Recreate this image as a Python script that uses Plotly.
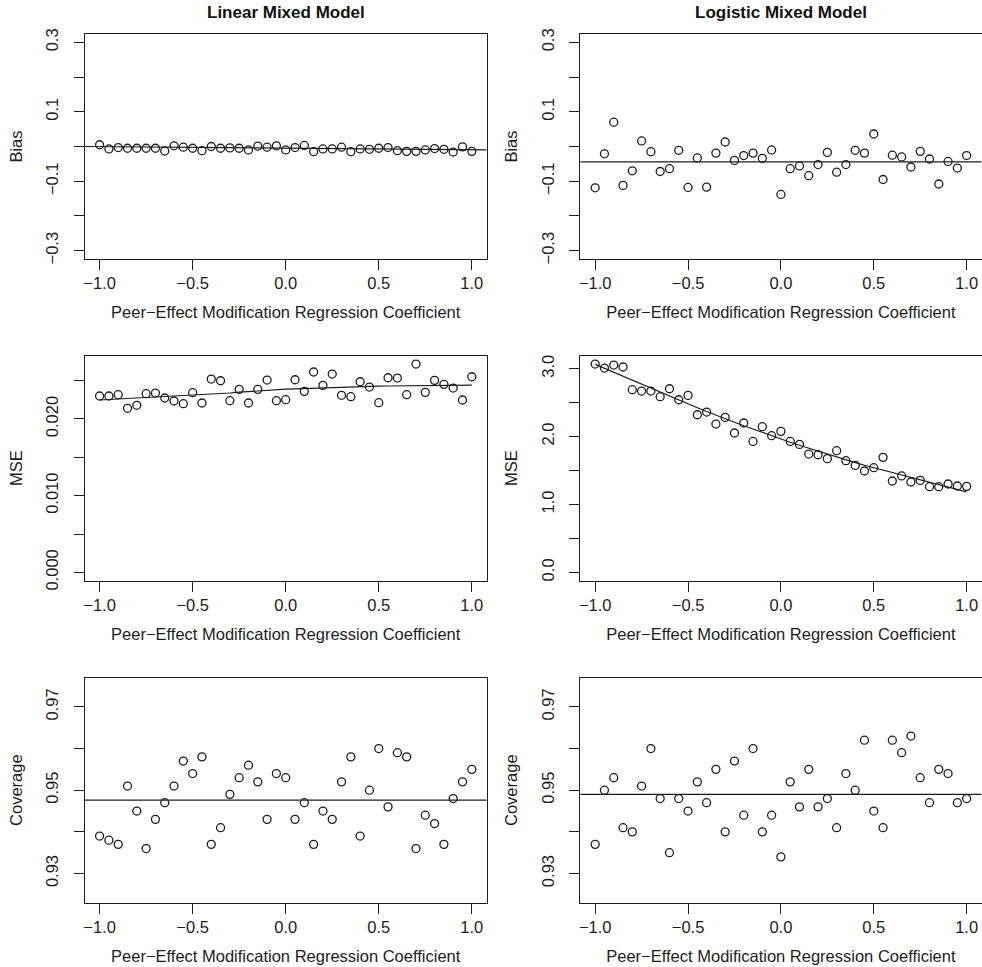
import numpy as np
import plotly.graph_objects as go

# ---------------- data ----------------
coef = [-1.0, -0.95, -0.9, -0.85, -0.8, -0.75, -0.7, -0.65, -0.6, -0.55, -0.5,
        -0.45, -0.4, -0.35, -0.3, -0.25, -0.2, -0.15, -0.1, -0.05, 0.0,
        0.05, 0.1, 0.15, 0.2, 0.25, 0.3, 0.35, 0.4, 0.45, 0.5,
        0.55, 0.6, 0.65, 0.7, 0.75, 0.8, 0.85, 0.9, 0.95, 1.0]

bias_linear = [0.005, -0.007, -0.003, -0.005, -0.005, -0.005, -0.005, -0.013, 0.002, -0.002, -0.005,
               -0.012, 0.000, -0.005, -0.004, -0.005, -0.010, 0.001, -0.002, 0.002, -0.010,
               -0.003, 0.003, -0.015, -0.007, -0.007, -0.002, -0.015, -0.007, -0.008, -0.005,
               -0.003, -0.012, -0.014, -0.014, -0.010, -0.006, -0.008, -0.016, -0.001, -0.014]
bias_logistic = [-0.119, -0.021, 0.070, -0.112, -0.070, 0.016, -0.015, -0.072, -0.064, -0.011, -0.118,
                 -0.033, -0.117, -0.019, 0.013, -0.040, -0.026, -0.019, -0.034, -0.010, -0.138,
                 -0.064, -0.056, -0.084, -0.052, -0.017, -0.074, -0.052, -0.011, -0.019, 0.036,
                 -0.095, -0.025, -0.030, -0.059, -0.014, -0.036, -0.108, -0.043, -0.062, -0.026]
mse_linear = [0.02299, 0.02299, 0.02316, 0.02139, 0.02178, 0.02329, 0.02338, 0.02273, 0.02234, 0.02199, 0.02342,
              0.02208, 0.02520, 0.02498, 0.02238, 0.02386, 0.02208, 0.02386, 0.02507, 0.02238, 0.02251,
              0.02511, 0.02360, 0.02612, 0.02438, 0.02585, 0.02308, 0.02290, 0.02485, 0.02416, 0.02212,
              0.02537, 0.02533, 0.02316, 0.02716, 0.02347, 0.02503, 0.02451, 0.02403, 0.02247, 0.02550]
mse_logistic = [3.069, 3.010, 3.054, 3.025, 2.691, 2.671, 2.671, 2.588, 2.705, 2.543, 2.607,
                2.322, 2.362, 2.185, 2.283, 2.053, 2.200, 1.929, 2.146, 2.013, 2.077,
                1.929, 1.885, 1.743, 1.733, 1.675, 1.792, 1.645, 1.576, 1.493, 1.542,
                1.694, 1.346, 1.420, 1.331, 1.355, 1.262, 1.262, 1.302, 1.272, 1.267]
coverage_linear = [0.939, 0.938, 0.937, 0.951, 0.945, 0.936, 0.943, 0.947, 0.951, 0.957, 0.954,
                   0.958, 0.937, 0.941, 0.949, 0.953, 0.956, 0.952, 0.943, 0.954, 0.953,
                   0.943, 0.947, 0.937, 0.945, 0.943, 0.952, 0.958, 0.939, 0.950, 0.960,
                   0.946, 0.959, 0.958, 0.936, 0.944, 0.942, 0.937, 0.948, 0.952, 0.955]
coverage_logistic = [0.937, 0.950, 0.953, 0.941, 0.940, 0.951, 0.960, 0.948, 0.935, 0.948, 0.945,
                     0.952, 0.947, 0.955, 0.940, 0.957, 0.944, 0.960, 0.940, 0.944, 0.934,
                     0.952, 0.946, 0.955, 0.946, 0.948, 0.941, 0.954, 0.950, 0.962, 0.945,
                     0.941, 0.962, 0.959, 0.963, 0.953, 0.947, 0.955, 0.954, 0.947, 0.948]

# reference lines (intercept, slope)
bias_linear_line = [-0.0048, -0.0044]
bias_logistic_line = [-0.044, 0.0]
coverage_linear_line = [0.9476, 0.0]
coverage_logistic_line = [0.9490, 0.0]

col_titles = ["Linear Mixed Model", "Logistic Mixed Model"]
x_title = "Peer\u2212Effect Modification Regression Coefficient"
x_ticks = [-1.0, -0.5, 0.0, 0.5, 1.0]
x_ticktext = ["\u22121.0", "\u22120.5", "0.0", "0.5", "1.0"]

bias_ticks = [-0.3, -0.2, -0.1, 0.0, 0.1, 0.2, 0.3]
bias_ticktext = ["\u22120.3", "", "\u22120.1", "", "0.1", "", "0.3"]
mse_lin_ticks = [0.0, 0.005, 0.010, 0.015, 0.020, 0.025]
mse_lin_ticktext = ["0.000", "", "0.010", "", "0.020", ""]
mse_log_ticks = [0.0, 0.5, 1.0, 1.5, 2.0, 2.5, 3.0]
mse_log_ticktext = ["0.0", "", "1.0", "", "2.0", "", "3.0"]
cov_ticks = [0.93, 0.94, 0.95, 0.96, 0.97]
cov_ticktext = ["0.93", "", "0.95", "", "0.97"]


# ---------------- helpers ----------------
def lowess(x, y, f=2 / 3, iters=3):
    x = np.asarray(x, float)
    y = np.asarray(y, float)
    n = len(x)
    ns = max(min(int(f * n + 1e-7), n), 2)
    rw = np.ones(n)
    fit = np.zeros(n)
    for it in range(iters + 1):
        for i in range(n):
            d = np.abs(x - x[i])
            h = np.sort(d)[ns - 1]
            u = np.clip(d / max(h, 1e-12), 0, 1)
            w = (1 - u ** 3) ** 3 * rw
            sw = w.sum()
            xm = (w * x).sum() / sw
            ym = (w * y).sum() / sw
            sxx = (w * (x - xm) ** 2).sum()
            b = (w * (x - xm) * (y - ym)).sum() / sxx if sxx > 0 else 0.0
            fit[i] = ym + b * (x[i] - xm)
        res = y - fit
        s = np.median(np.abs(res))
        if it < iters:
            rr = np.clip(np.abs(res) / (6 * s), 0, 1)
            rw = (1 - rr ** 2) ** 2
    return fit


def lim(lo, hi):
    pad = 0.04 * (hi - lo)
    return [lo - pad, hi + pad]


INK = "#1c1c1c"
FONT = "Liberation Sans, Arial, Helvetica, sans-serif"
W, H = 982, 967
AX_FS = 16.5

xr = lim(-1.0, 1.0)

panels = [
    dict(vals=bias_linear, ytitle="Bias", ticks=bias_ticks, text=bias_ticktext,
         yr=lim(-0.3, 0.3), line=("ab", bias_linear_line)),
    dict(vals=bias_logistic, ytitle="Bias", ticks=bias_ticks, text=bias_ticktext,
         yr=lim(-0.3, 0.3), line=("ab", bias_logistic_line)),
    dict(vals=mse_linear, ytitle="MSE", ticks=mse_lin_ticks, text=mse_lin_ticktext,
         yr=lim(0.0, max(mse_linear)), line=("lowess", None)),
    dict(vals=mse_logistic, ytitle="MSE", ticks=mse_log_ticks, text=mse_log_ticktext,
         yr=lim(0.0, max(mse_logistic)), line=("lowess", None)),
    dict(vals=coverage_linear, ytitle="Coverage", ticks=cov_ticks, text=cov_ticktext,
         yr=lim(0.925, 0.975), line=("ab", coverage_linear_line)),
    dict(vals=coverage_logistic, ytitle="Coverage", ticks=cov_ticks, text=cov_ticktext,
         yr=lim(0.925, 0.975), line=("ab", coverage_logistic_line)),
]

# plot box positions in window pixels (left, right) and (top, bottom)
col_px = [(84.7, 486.7), (580.3, 981.5)]
row_px = [(34.0, 259.0), (355.7, 580.7), (677.7, 902.7)]

fig = go.Figure()
layout = dict(width=W, height=H, margin=dict(l=0, r=0, t=0, b=0),
              paper_bgcolor="white", plot_bgcolor="white", showlegend=False,
              font=dict(family=FONT, color=INK, size=AX_FS))

for i, p in enumerate(panels):
    r, c = divmod(i, 2)
    sfx = "" if i == 0 else str(i + 1)
    xa, ya = "x" + sfx, "y" + sfx
    fig.add_trace(go.Scatter(
        x=coef, y=p["vals"], mode="markers", xaxis=xa, yaxis=ya,
        marker=dict(symbol="circle-open", size=8, color=INK, line=dict(width=1.3, color=INK)),
        hoverinfo="skip", cliponaxis=False))
    kind, par = p["line"]
    if kind == "ab":
        lx = np.array(xr)
        ly = par[0] + par[1] * lx
    else:
        lx = np.array(coef)
        ly = lowess(coef, p["vals"])
    fig.add_trace(go.Scatter(x=lx, y=ly, mode="lines", xaxis=xa, yaxis=ya,
                             line=dict(color=INK, width=1.2), hoverinfo="skip"))

    x0, x1 = col_px[c]
    t0, t1 = row_px[r]
    layout["xaxis" + sfx] = dict(
        domain=[x0 / W, x1 / W], anchor=ya, range=xr,
        tickmode="array", tickvals=x_ticks, ticktext=x_ticktext,
        ticks="outside", ticklen=10, tickwidth=1, tickcolor=INK,
        showline=True, linecolor=INK, linewidth=1, mirror=True,
        showgrid=False, zeroline=False, automargin=False, fixedrange=True,
        tickfont=dict(size=AX_FS), ticklabelstandoff=-1,
        title=dict(text=x_title, font=dict(size=AX_FS), standoff=15))
    layout["yaxis" + sfx] = dict(
        domain=[1 - t1 / H, 1 - t0 / H], anchor=xa, range=p["yr"],
        tickmode="array", tickvals=p["ticks"], ticktext=p["text"], tickangle=-90,
        ticks="outside", ticklen=10, tickwidth=1, tickcolor=INK,
        showline=True, linecolor=INK, linewidth=1, mirror=True,
        showgrid=False, zeroline=False, automargin=False, fixedrange=True,
        tickfont=dict(size=AX_FS), ticklabelstandoff=9,
        title=dict(text=p["ytitle"], font=dict(size=AX_FS), standoff=16))

annotations = []
for c, t in enumerate(col_titles):
    x0, x1 = col_px[c]
    annotations.append(dict(text="<b>" + t + "</b>", x=(x0 + x1) / 2 / W, y=1 - 12 / H,
                            xref="paper", yref="paper", xanchor="center", yanchor="middle",
                            showarrow=False, font=dict(size=17, family=FONT, color="#111")))
layout["annotations"] = annotations
fig.update_layout(**layout)
fig.write_html("out.html", config={"displayModeBar": False},
               post_script="document.body.style.margin='0px';")
